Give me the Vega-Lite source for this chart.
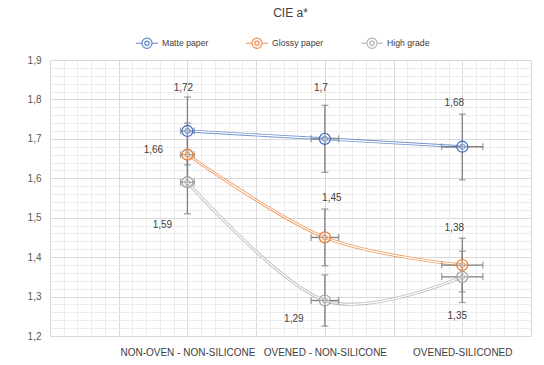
{
  "$schema": "https://vega.github.io/schema/vega-lite/v6.json",
  "width": 481,
  "height": 276,
  "autosize": "none",
  "padding": {"left": 50, "top": 60, "right": 13, "bottom": 29},
  "background": "white",
  "title": {"text": "CIE a*", "fontSize": 12, "fontWeight": "normal", "color": "#404040", "font": "Liberation Sans", "anchor": "middle", "offset": 11},
  "config": {
    "view": {"stroke": null},
    "locale": {"number": {"decimal": ",", "thousands": ".", "grouping": [3], "currency": ["", " €"]}}
  },
  "data": {"values": [
    {"series": "Matte paper", "category": "NON-OVEN - NON-SILICONE", "x": 1, "value": 1.72, "ylo": 1.634, "yhi": 1.806, "xlo": 0.95, "xhi": 1.05},
    {"series": "Matte paper", "category": "OVENED - NON-SILICONE", "x": 2, "value": 1.70, "ylo": 1.615, "yhi": 1.785, "xlo": 1.9, "xhi": 2.1},
    {"series": "Matte paper", "category": "OVENED-SILICONED", "x": 3, "value": 1.68, "ylo": 1.596, "yhi": 1.763, "xlo": 2.85, "xhi": 3.15},
    {"series": "Glossy paper", "category": "NON-OVEN - NON-SILICONE", "x": 1, "value": 1.66, "ylo": 1.58, "yhi": 1.74, "xlo": 0.95, "xhi": 1.05},
    {"series": "Glossy paper", "category": "OVENED - NON-SILICONE", "x": 2, "value": 1.45, "ylo": 1.378, "yhi": 1.522, "xlo": 1.9, "xhi": 2.1},
    {"series": "Glossy paper", "category": "OVENED-SILICONED", "x": 3, "value": 1.38, "ylo": 1.312, "yhi": 1.448, "xlo": 2.85, "xhi": 3.15},
    {"series": "High grade", "category": "NON-OVEN - NON-SILICONE", "x": 1, "value": 1.59, "ylo": 1.51, "yhi": 1.67, "xlo": 0.95, "xhi": 1.05},
    {"series": "High grade", "category": "OVENED - NON-SILICONE", "x": 2, "value": 1.29, "ylo": 1.225, "yhi": 1.355, "xlo": 1.9, "xhi": 2.1},
    {"series": "High grade", "category": "OVENED-SILICONED", "x": 3, "value": 1.35, "ylo": 1.285, "yhi": 1.415, "xlo": 2.85, "xhi": 3.15}
  ]},
  "resolve": {"axis": {"x": "independent", "y": "independent"}},
  "layer": [
    {
      "mark": {"type": "rule", "color": "#7f7f7f", "strokeWidth": 1.3},
      "encoding": {
        "x": {"field": "x", "type": "quantitative", "scale": {"domain": [0, 3.5], "nice": false, "zero": false},
          "axis": {"orient": "bottom", "values": [0.1,0.2,0.3,0.4,0.6,0.7,0.8,0.9,1.1,1.2,1.3,1.4,1.6,1.7,1.8,1.9,2.1,2.2,2.3,2.4,2.6,2.7,2.8,2.9,3.1,3.2,3.3,3.4], "grid": true, "gridColor": "#ececec", "gridWidth": 1, "labels": false, "ticks": false, "domain": false, "title": null}},
        "y": {"field": "ylo", "type": "quantitative", "scale": {"domain": [1.2, 1.9], "nice": false, "zero": false},
          "axis": {"orient": "left", "values": [1.22,1.24,1.26,1.28,1.32,1.34,1.36,1.38,1.42,1.44,1.46,1.48,1.52,1.54,1.56,1.58,1.62,1.64,1.66,1.68,1.72,1.74,1.76,1.78,1.82,1.84,1.86,1.88], "grid": true, "gridColor": "#ececec", "gridWidth": 1, "labels": false, "ticks": false, "domain": false, "title": null}},
        "y2": {"field": "yhi"}
      }
    },
    {
      "mark": {"type": "line", "interpolate": "cardinal", "strokeWidth": 3, "opacity": 0.75},
      "encoding": {
        "x": {"field": "x", "type": "quantitative",
          "axis": {"orient": "bottom", "values": [0, 0.5, 1, 1.5, 2, 2.5, 3, 3.5], "grid": true, "gridColor": "#d9d9d9", "gridWidth": 1, "ticks": false, "domain": false, "title": null,
            "labelExpr": "datum.value == 1 ? 'NON-OVEN - NON-SILICONE' : datum.value == 2 ? 'OVENED - NON-SILICONE' : datum.value == 3 ? 'OVENED-SILICONED' : ''",
            "labelFont": "Liberation Sans", "labelFontSize": 10, "labelColor": "#404040", "labelPadding": 11, "labelOverlap": false, "labelFlush": false}},
        "y": {"field": "value", "type": "quantitative",
          "axis": {"orient": "left", "values": [1.2, 1.3, 1.4, 1.5, 1.6, 1.7, 1.8, 1.9], "format": ".1f", "grid": true, "gridColor": "#d9d9d9", "gridWidth": 1, "ticks": false, "domain": false, "title": null,
            "labelFont": "Liberation Sans", "labelFontSize": 10, "labelColor": "#595959", "labelPadding": 9}},
        "color": {"field": "series", "type": "nominal",
          "scale": {"domain": ["Matte paper", "Glossy paper", "High grade"], "range": ["#4472c4", "#ed7d31", "#a5a5a5"]},
          "legend": {
            "title": null, "orient": "none", "legendX": 85, "legendY": -29, "direction": "horizontal",
            "symbolType": "M-1,0H-0.46M0.46,0H1M-0.46,0A0.46,0.46 0 1 1 0.46,0A0.46,0.46 0 1 1 -0.46,0M-0.2,0A0.2,0.2 0 1 1 0.2,0A0.2,0.2 0 1 1 -0.2,0",
            "symbolSize": 484, "symbolStrokeWidth": 1.2, "symbolFillColor": "transparent", "symbolOpacity": 0.85,
            "labelFontSize": 8.7, "labelColor": "#404040", "labelFont": "Liberation Sans",
            "columnPadding": 34, "labelOffset": 3, "padding": 0
          }},
        "order": {"field": "x"}
      }
    },
    {
      "mark": {"type": "line", "interpolate": "cardinal", "strokeWidth": 1.2, "color": "white"},
      "encoding": {
        "x": {"field": "x", "type": "quantitative", "axis": null},
        "y": {"field": "value", "type": "quantitative", "axis": null},
        "detail": {"field": "series"},
        "order": {"field": "x"}
      }
    },
    {
      "mark": {"type": "rule", "color": "#7f7f7f", "strokeWidth": 1.3},
      "encoding": {
        "x": {"field": "xlo", "type": "quantitative", "axis": null},
        "x2": {"field": "xhi"},
        "y": {"field": "value", "type": "quantitative", "axis": null}
      }
    },
    {
      "transform": [{"fold": ["ylo", "yhi"], "as": ["k", "yv"]}],
      "mark": {"type": "tick", "orient": "horizontal", "color": "#7f7f7f", "thickness": 1.3, "size": 7},
      "encoding": {
        "x": {"field": "x", "type": "quantitative", "axis": null},
        "y": {"field": "yv", "type": "quantitative", "axis": null}
      }
    },
    {
      "transform": [{"fold": ["xlo", "xhi"], "as": ["k", "xv"]}],
      "mark": {"type": "tick", "orient": "vertical", "color": "#7f7f7f", "thickness": 1.3, "size": 7},
      "encoding": {
        "x": {"field": "xv", "type": "quantitative", "axis": null},
        "y": {"field": "value", "type": "quantitative", "axis": null}
      }
    },
    {
      "mark": {"type": "point", "shape": "circle", "size": 120, "strokeWidth": 1.3, "filled": false, "fill": "white", "fillOpacity": 0.35},
      "encoding": {
        "x": {"field": "x", "type": "quantitative", "axis": null},
        "y": {"field": "value", "type": "quantitative", "axis": null},
        "stroke": {"field": "series", "type": "nominal", "legend": null,
          "scale": {"domain": ["Matte paper", "Glossy paper", "High grade"], "range": ["#4472c4", "#ed7d31", "#a5a5a5"]}}
      }
    },
    {
      "mark": {"type": "point", "shape": "circle", "size": 28, "strokeWidth": 1, "filled": false},
      "encoding": {
        "x": {"field": "x", "type": "quantitative", "axis": null},
        "y": {"field": "value", "type": "quantitative", "axis": null},
        "stroke": {"field": "series", "type": "nominal", "legend": null}
      }
    },
    {"transform": [{"filter": "datum.series == 'Matte paper' && datum.x == 1"}], "mark": {"type": "text", "dx": -4, "dy": -43, "fontSize": 10, "font": "Liberation Sans", "color": "#404040"}, "encoding": {"x": {"field": "x", "type": "quantitative", "axis": null}, "y": {"field": "value", "type": "quantitative", "axis": null}, "text": {"field": "value", "type": "quantitative", "format": "~f"}}},
    {"transform": [{"filter": "datum.series == 'Matte paper' && datum.x == 2"}], "mark": {"type": "text", "dx": -4, "dy": -51, "fontSize": 10, "font": "Liberation Sans", "color": "#404040"}, "encoding": {"x": {"field": "x", "type": "quantitative", "axis": null}, "y": {"field": "value", "type": "quantitative", "axis": null}, "text": {"field": "value", "type": "quantitative", "format": "~f"}}},
    {"transform": [{"filter": "datum.series == 'Matte paper' && datum.x == 3"}], "mark": {"type": "text", "dx": -8, "dy": -44, "fontSize": 10, "font": "Liberation Sans", "color": "#404040"}, "encoding": {"x": {"field": "x", "type": "quantitative", "axis": null}, "y": {"field": "value", "type": "quantitative", "axis": null}, "text": {"field": "value", "type": "quantitative", "format": "~f"}}},
    {"transform": [{"filter": "datum.series == 'Glossy paper' && datum.x == 1"}], "mark": {"type": "text", "dx": -34, "dy": -5, "fontSize": 10, "font": "Liberation Sans", "color": "#404040"}, "encoding": {"x": {"field": "x", "type": "quantitative", "axis": null}, "y": {"field": "value", "type": "quantitative", "axis": null}, "text": {"field": "value", "type": "quantitative", "format": "~f"}}},
    {"transform": [{"filter": "datum.series == 'Glossy paper' && datum.x == 2"}], "mark": {"type": "text", "dx": 7, "dy": -39, "fontSize": 10, "font": "Liberation Sans", "color": "#404040"}, "encoding": {"x": {"field": "x", "type": "quantitative", "axis": null}, "y": {"field": "value", "type": "quantitative", "axis": null}, "text": {"field": "value", "type": "quantitative", "format": "~f"}}},
    {"transform": [{"filter": "datum.series == 'Glossy paper' && datum.x == 3"}], "mark": {"type": "text", "dx": -8, "dy": -37, "fontSize": 10, "font": "Liberation Sans", "color": "#404040"}, "encoding": {"x": {"field": "x", "type": "quantitative", "axis": null}, "y": {"field": "value", "type": "quantitative", "axis": null}, "text": {"field": "value", "type": "quantitative", "format": "~f"}}},
    {"transform": [{"filter": "datum.series == 'High grade' && datum.x == 1"}], "mark": {"type": "text", "dx": -25, "dy": 43, "fontSize": 10, "font": "Liberation Sans", "color": "#404040"}, "encoding": {"x": {"field": "x", "type": "quantitative", "axis": null}, "y": {"field": "value", "type": "quantitative", "axis": null}, "text": {"field": "value", "type": "quantitative", "format": "~f"}}},
    {"transform": [{"filter": "datum.series == 'High grade' && datum.x == 2"}], "mark": {"type": "text", "dx": -31, "dy": 18, "fontSize": 10, "font": "Liberation Sans", "color": "#404040"}, "encoding": {"x": {"field": "x", "type": "quantitative", "axis": null}, "y": {"field": "value", "type": "quantitative", "axis": null}, "text": {"field": "value", "type": "quantitative", "format": "~f"}}},
    {"transform": [{"filter": "datum.series == 'High grade' && datum.x == 3"}], "mark": {"type": "text", "dx": -5, "dy": 39, "fontSize": 10, "font": "Liberation Sans", "color": "#404040"}, "encoding": {"x": {"field": "x", "type": "quantitative", "axis": null}, "y": {"field": "value", "type": "quantitative", "axis": null}, "text": {"field": "value", "type": "quantitative", "format": "~f"}}}
  ]
}
